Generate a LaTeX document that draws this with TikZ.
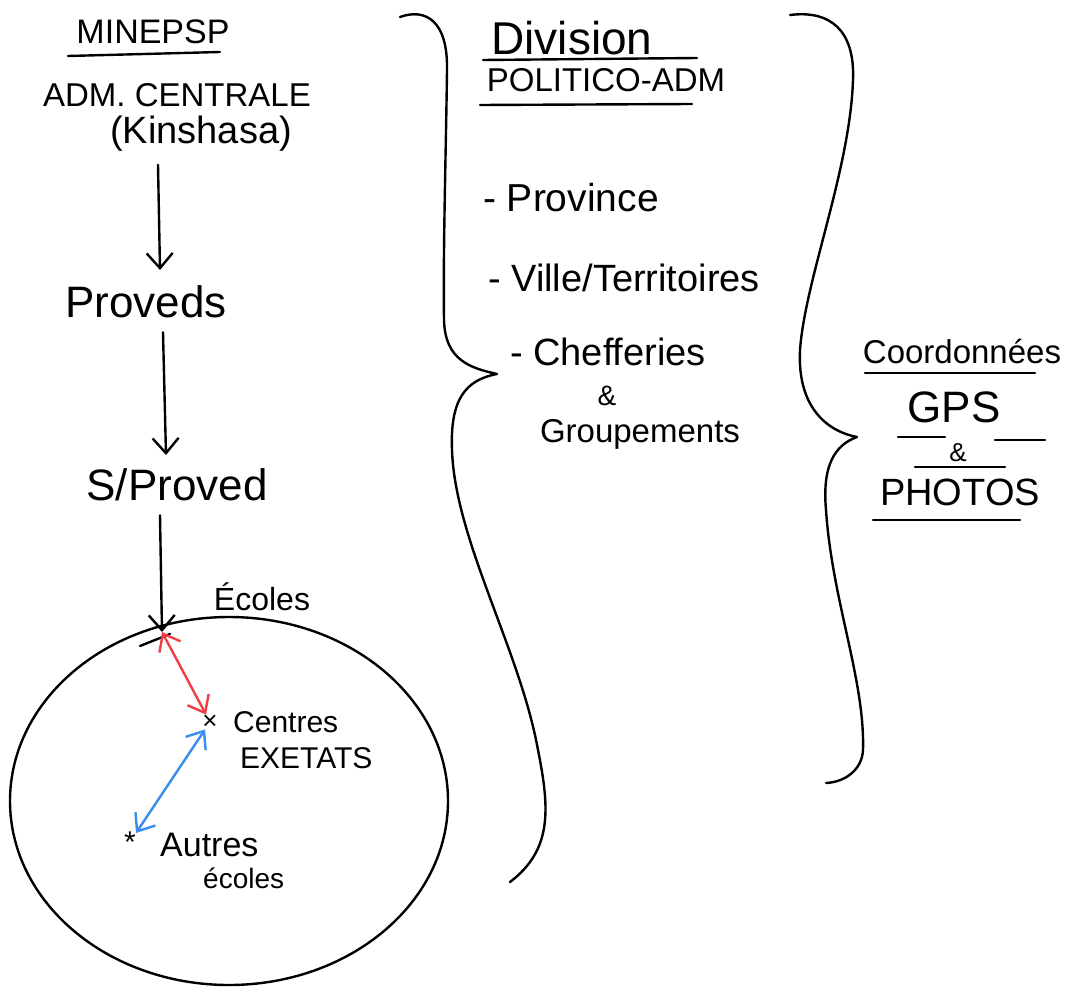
\documentclass[tikz,border=0pt]{standalone}
\usepackage{fontspec}
\setmainfont{Liberation Sans}
\usetikzlibrary{arrows.meta,shapes.geometric}
\definecolor{penred}{RGB}{238,62,72}
\definecolor{penblue}{RGB}{58,140,238}
\tikzset{
  pen/.style={line width=2.4pt, line cap=round, line join=round},
  lbl/.style={inner sep=0pt, anchor=center},
  arr/.style={pen, -{Straight Barb[length=15pt,width=26pt]}},
  darr/.style={pen, {Straight Barb[length=15pt,width=24pt]}-{Straight Barb[length=15pt,width=24pt]}},
  fs/.style={font=\fontsize{#1}{#1}\selectfont},
}
\begin{document}
\begin{tikzpicture}[x=1pt,y=-1pt]
\useasboundingbox (0,0) rectangle (1070,992);
\fill[white] (0,0) rectangle (1070,992);

% left column
\node[lbl,fs=34] (min) at (153,32) {MINEPSP};
\draw[pen] (68,56) -- (220,52);
\node[lbl,fs=33] (adm) at (177,95) {ADM. CENTRALE};
\node[lbl,fs=38] (kin) at (201,134) {(Kinshasa)};
\node[lbl,fs=44] (prov) at (146,302) {Proveds};
\node[lbl,fs=44] (sprov) at (177,485) {S/Proved};
\node[lbl,fs=32] (ecl) at (262,597) {Écoles};

\draw[arr] (kin.south -| 158,0) ++(0,13) -- (160,270);
\draw[arr] (prov.south -| 163,0) ++(0,14) -- (166,455);

% ellipse of schools
\node[ellipse, draw, pen, minimum width=438pt, minimum height=368pt] (zone) at (229,801) {};
\coordinate (ept) at (162,632);
\draw[arr] (sprov.south -| 160,0) ++(0,14) -- (ept);
\draw[pen] (140,646) -- (170,634);

\node[lbl,fs=26] (cx) at (210,722) {×};
\node[lbl,fs=30,anchor=west] (cen) at (233,722) {Centres};
\node[lbl,fs=30,anchor=west] (exe) at (240,758) {EXETATS};
\node[lbl,fs=30] (ax) at (130,842) {*};
\node[lbl,fs=34,anchor=west] (aut) at (160,845) {Autres};
\node[lbl,fs=28,anchor=west] (aec) at (203,878) {écoles};

\draw[darr, penred] (ept) -- (cx);
\draw[darr, penblue] (cx) -- (ax);

% brace 1
\draw[pen] (400,17) .. controls (425,8) and (448,20) .. (447,70)
  .. controls (446,150) and (443,250) .. (444,320)
  .. controls (445,360) and (470,368) .. (497,374)
  .. controls (465,380) and (450,400) .. (452,450)
  .. controls (455,540) and (520,650) .. (538,750)
  .. controls (550,810) and (552,850) .. (510,882);

% middle column
\node[lbl,fs=46] (div) at (572,38) {Division};
\draw[pen] (483,60) -- (697,58);
\node[lbl,fs=33] (pol) at (606,80) {POLITICO-ADM};
\draw[pen] (480,105) -- (692,104);
\node[lbl,fs=39,anchor=west] (pro) at (483,198) {- Province};
\node[lbl,fs=38,anchor=west] (vil) at (488,278) {- Ville/Territoires};
\node[lbl,fs=38,anchor=west] (che) at (510,352) {- Chefferies};
\node[lbl,fs=28] (amp) at (607,396) {\&};
\node[lbl,fs=33] (grp) at (640,434) {Groupements};

% brace 2
\draw[pen] (790,15) .. controls (830,10) and (855,30) .. (853,80)
  .. controls (850,170) and (805,280) .. (800,350)
  .. controls (797,410) and (830,432) .. (857,437)
  .. controls (835,445) and (822,465) .. (826,510)
  .. controls (832,600) and (865,680) .. (863,750)
  .. controls (862,770) and (845,782) .. (826,783);

% right column
\node[lbl,fs=33] (coo) at (962,352) {Coordonnées};
\draw[pen] (865,373) -- (1035,373);
\node[lbl,fs=44] (gps) at (954,407) {GPS};
\draw[pen] (898,437) -- (945,437);
\draw[pen] (995,440) -- (1045,440);
\node[lbl,fs=26] (amp2) at (958,453) {\&};
\draw[pen] (915,467) -- (1005,467);
\node[lbl,fs=38] (pho) at (960,492) {PHOTOS};
\draw[pen] (873,520) -- (1020,520);
\end{tikzpicture}
\end{document}
